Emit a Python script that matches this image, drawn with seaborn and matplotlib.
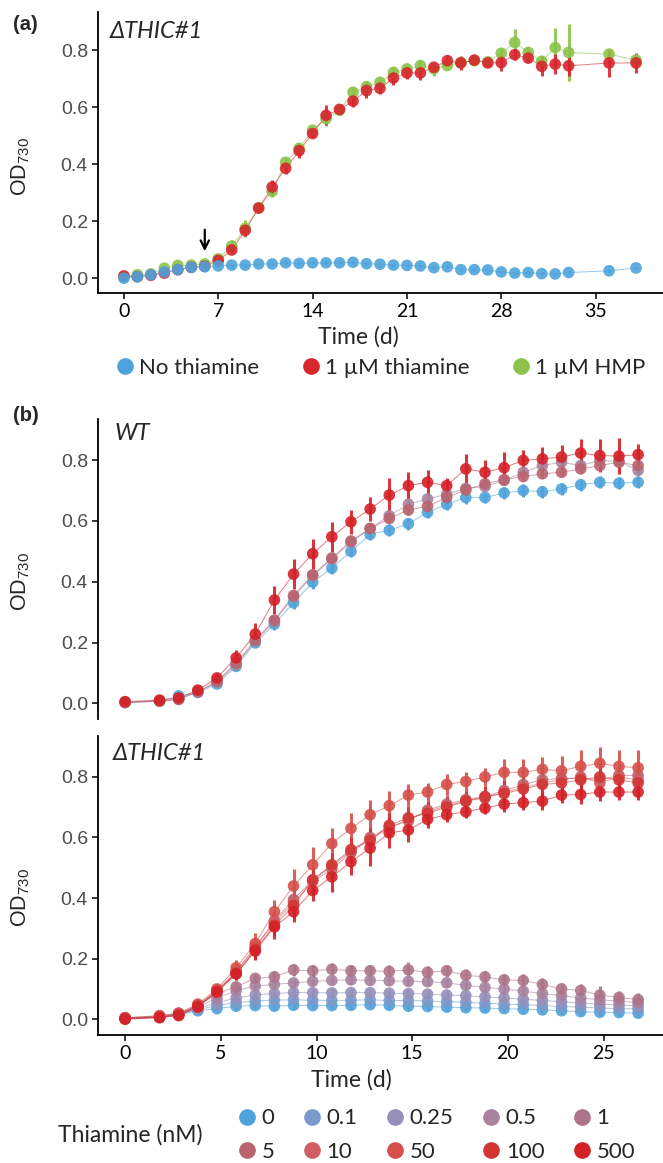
import numpy as np
import pandas as pd
import matplotlib
matplotlib.use("Agg")
import matplotlib.pyplot as plt
from matplotlib.lines import Line2D
import seaborn as sns

# ---- panel (a): dTHIC#1, no thiamine / thiamine / HMP ----
days_a = [0, 1, 2, 3, 4, 5, 6, 7, 8, 9, 10, 11, 12, 13, 14, 15, 16, 17, 18, 19,
          20, 21, 22, 23, 24, 25, 26, 27, 28, 29, 30, 31, 32, 33, 36, 38]
none_a = [0.000, 0.005, 0.012, 0.022, 0.030, 0.038, 0.040, 0.043, 0.046, 0.046, 0.050, 0.050,
          0.054, 0.052, 0.054, 0.054, 0.054, 0.056, 0.051, 0.049, 0.046, 0.045, 0.043, 0.037,
          0.040, 0.030, 0.030, 0.029, 0.022, 0.018, 0.020, 0.016, 0.015, 0.020, 0.026, 0.036]
thi_a = [0.008, 0.005, 0.010, 0.018, 0.030, 0.038, 0.042, 0.062, 0.099, 0.168, 0.246, 0.320,
         0.386, 0.448, 0.508, 0.572, 0.593, 0.622, 0.659, 0.667, 0.703, 0.721, 0.721, 0.741,
         0.764, 0.756, 0.766, 0.756, 0.757, 0.785, 0.773, 0.744, 0.752, 0.746, 0.756, 0.756]
hmp_a = [0.005, 0.012, 0.015, 0.035, 0.045, 0.046, 0.050, 0.068, 0.113, 0.175, 0.248, 0.305,
         0.407, 0.456, 0.520, 0.560, 0.590, 0.653, 0.673, 0.688, 0.723, 0.735, 0.747, 0.735,
         0.747, 0.758, 0.764, 0.760, 0.790, 0.828, 0.793, 0.762, 0.810, 0.793, 0.787, 0.766]
none_sd = [0.004, 0.004, 0.004, 0.005, 0.005, 0.005, 0.005, 0.005, 0.005, 0.005, 0.005, 0.005,
           0.005, 0.005, 0.005, 0.005, 0.005, 0.005, 0.005, 0.005, 0.005, 0.005, 0.005, 0.005,
           0.005, 0.005, 0.005, 0.005, 0.005, 0.005, 0.005, 0.005, 0.005, 0.005, 0.005, 0.005]
thi_sd = [0.005, 0.005, 0.005, 0.005, 0.005, 0.005, 0.005, 0.008, 0.010, 0.020, 0.015, 0.025,
          0.020, 0.025, 0.015, 0.035, 0.020, 0.020, 0.025, 0.020, 0.025, 0.020, 0.025, 0.015,
          0.020, 0.025, 0.015, 0.010, 0.030, 0.020, 0.015, 0.035, 0.035, 0.035, 0.050, 0.035]
hmp_sd = [0.005, 0.005, 0.005, 0.005, 0.005, 0.005, 0.005, 0.010, 0.020, 0.030, 0.015, 0.020,
          0.015, 0.020, 0.010, 0.025, 0.015, 0.015, 0.015, 0.020, 0.020, 0.020, 0.020, 0.025,
          0.010, 0.015, 0.010, 0.010, 0.015, 0.047, 0.020, 0.020, 0.070, 0.100, 0.010, 0.010]
groups_a = ["No thiamine", "1 \u00b5M thiamine", "1 \u00b5M HMP"]
colors_a = ["#4EA3DC", "#D7262D", "#8BC34A"]

# ---- panel (b): thiamine concentrations ----
days_b = [0, 1.8, 2.8, 3.8, 4.8, 5.8, 6.8, 7.8, 8.8, 9.8, 10.8, 11.8, 12.8, 13.8,
          14.8, 15.8, 16.8, 17.8, 18.8, 19.8, 20.8, 21.8, 22.8, 23.8, 24.8, 25.8, 26.8]
conc = ["0", "0.1", "0.25", "0.5", "1", "5", "10", "50", "100", "500"]
conc_colors = ["#4FA3DB", "#7B9ACB", "#968FBB", "#A8829E", "#AE7489",
               "#B9646E", "#D05F63", "#D5504A", "#D33535", "#D42027"]

# WT
wt_conc = ["0", "0.5", "5", "500"]
wt_od = {
    "0": [0.003, 0.009, 0.025, 0.036, 0.064, 0.122, 0.199, 0.261, 0.331, 0.399, 0.445, 0.500, 0.556, 0.569,
          0.591, 0.628, 0.655, 0.677, 0.677, 0.692, 0.700, 0.696, 0.705, 0.719, 0.727, 0.724, 0.727],
    "0.5": [0.004, 0.008, 0.015, 0.038, 0.070, 0.128, 0.205, 0.270, 0.350, 0.420, 0.475, 0.530, 0.575, 0.617,
            0.655, 0.672, 0.688, 0.707, 0.713, 0.733, 0.760, 0.782, 0.793, 0.782, 0.799, 0.796, 0.766],
    "5": [0.003, 0.007, 0.013, 0.039, 0.073, 0.133, 0.208, 0.274, 0.355, 0.423, 0.478, 0.534, 0.575, 0.608,
          0.636, 0.648, 0.677, 0.702, 0.722, 0.736, 0.746, 0.755, 0.760, 0.771, 0.782, 0.793, 0.782],
    "500": [0.006, 0.011, 0.018, 0.044, 0.084, 0.150, 0.228, 0.340, 0.425, 0.492, 0.548, 0.597, 0.639, 0.685,
            0.716, 0.727, 0.716, 0.771, 0.760, 0.775, 0.799, 0.804, 0.810, 0.823, 0.815, 0.813, 0.818],
}
wt_sd = {
    "0": [0.003, 0.004, 0.005, 0.006, 0.008, 0.012, 0.015, 0.020, 0.020, 0.022, 0.020, 0.020, 0.020, 0.020,
          0.020, 0.020, 0.020, 0.020, 0.018, 0.020, 0.020, 0.020, 0.020, 0.020, 0.020, 0.020, 0.020],
    "0.5": [0.003, 0.004, 0.005, 0.006, 0.008, 0.010, 0.012, 0.015, 0.015, 0.015, 0.015, 0.015, 0.015, 0.015,
            0.015, 0.015, 0.015, 0.015, 0.015, 0.015, 0.015, 0.015, 0.015, 0.015, 0.015, 0.015, 0.015],
    "5": [0.003, 0.004, 0.005, 0.006, 0.008, 0.010, 0.012, 0.015, 0.015, 0.015, 0.015, 0.015, 0.015, 0.015,
          0.015, 0.015, 0.015, 0.015, 0.015, 0.015, 0.015, 0.015, 0.015, 0.015, 0.015, 0.015, 0.015],
    "500": [0.005, 0.005, 0.008, 0.010, 0.015, 0.025, 0.035, 0.045, 0.050, 0.050, 0.050, 0.040, 0.040, 0.055,
            0.045, 0.040, 0.025, 0.050, 0.040, 0.050, 0.035, 0.040, 0.040, 0.045, 0.055, 0.060, 0.035],
}

# dTHIC#1
th_od = {
    "0": [0.003, 0.006, 0.015, 0.028, 0.035, 0.043, 0.045, 0.043, 0.046, 0.045, 0.045, 0.046, 0.048, 0.046,
          0.043, 0.042, 0.040, 0.038, 0.037, 0.035, 0.033, 0.031, 0.028, 0.025, 0.023, 0.022, 0.020],
    "0.1": [0.003, 0.007, 0.016, 0.032, 0.045, 0.055, 0.060, 0.063, 0.064, 0.063, 0.062, 0.063, 0.064, 0.062,
            0.062, 0.060, 0.058, 0.056, 0.053, 0.050, 0.048, 0.045, 0.042, 0.040, 0.037, 0.035, 0.034],
    "0.25": [0.004, 0.008, 0.018, 0.036, 0.055, 0.070, 0.080, 0.085, 0.088, 0.088, 0.087, 0.088, 0.088, 0.086,
             0.085, 0.083, 0.080, 0.078, 0.074, 0.070, 0.066, 0.062, 0.058, 0.054, 0.050, 0.047, 0.045],
    "0.5": [0.004, 0.008, 0.018, 0.040, 0.070, 0.094, 0.110, 0.115, 0.120, 0.125, 0.128, 0.130, 0.128, 0.127,
            0.125, 0.124, 0.120, 0.112, 0.105, 0.100, 0.093, 0.085, 0.078, 0.070, 0.064, 0.060, 0.055],
    "1": [0.005, 0.010, 0.020, 0.045, 0.085, 0.107, 0.135, 0.140, 0.163, 0.160, 0.165, 0.160, 0.160, 0.158,
          0.163, 0.155, 0.160, 0.145, 0.140, 0.130, 0.128, 0.115, 0.100, 0.095, 0.080, 0.072, 0.065],
    "5": [0.004, 0.008, 0.015, 0.045, 0.095, 0.155, 0.235, 0.325, 0.395, 0.460, 0.505, 0.555, 0.600, 0.635,
          0.655, 0.690, 0.710, 0.725, 0.735, 0.755, 0.775, 0.790, 0.795, 0.795, 0.790, 0.805, 0.805],
    "10": [0.003, 0.008, 0.016, 0.046, 0.094, 0.158, 0.240, 0.320, 0.385, 0.455, 0.495, 0.550, 0.595, 0.630,
           0.660, 0.685, 0.705, 0.720, 0.730, 0.750, 0.765, 0.780, 0.790, 0.800, 0.780, 0.800, 0.790],
    "50": [0.005, 0.012, 0.020, 0.050, 0.100, 0.170, 0.250, 0.355, 0.440, 0.510, 0.580, 0.630, 0.675, 0.705,
           0.740, 0.750, 0.775, 0.785, 0.800, 0.815, 0.815, 0.825, 0.820, 0.835, 0.845, 0.835, 0.830],
    "100": [0.002, 0.007, 0.014, 0.043, 0.092, 0.150, 0.230, 0.310, 0.375, 0.460, 0.510, 0.560, 0.590, 0.640,
            0.665, 0.680, 0.700, 0.720, 0.735, 0.745, 0.760, 0.775, 0.780, 0.790, 0.800, 0.790, 0.780],
    "500": [0.000, 0.005, 0.012, 0.040, 0.090, 0.150, 0.225, 0.305, 0.355, 0.425, 0.470, 0.520, 0.565, 0.615,
            0.625, 0.660, 0.675, 0.685, 0.697, 0.710, 0.715, 0.720, 0.740, 0.742, 0.750, 0.750, 0.750],
}
low_sd = [0.004, 0.005, 0.006, 0.008, 0.010, 0.012, 0.012, 0.012, 0.012, 0.012, 0.012, 0.012, 0.012, 0.012,
          0.012, 0.012, 0.012, 0.012, 0.012, 0.012, 0.012, 0.012, 0.012, 0.012, 0.012, 0.012, 0.012]
th_sd = {
    "0": low_sd, "0.1": low_sd, "0.25": low_sd, "0.5": low_sd,
    "1": [0.004, 0.005, 0.006, 0.008, 0.010, 0.015, 0.015, 0.020, 0.020, 0.020, 0.020, 0.020, 0.020, 0.020,
          0.025, 0.020, 0.020, 0.020, 0.020, 0.020, 0.020, 0.020, 0.020, 0.020, 0.030, 0.020, 0.020],
    "5": [0.005, 0.005, 0.008, 0.010, 0.015, 0.020, 0.025, 0.030, 0.035, 0.035, 0.030, 0.030, 0.030, 0.030,
          0.030, 0.030, 0.030, 0.030, 0.030, 0.030, 0.030, 0.030, 0.035, 0.035, 0.035, 0.035, 0.035],
    "10": [0.005, 0.005, 0.008, 0.010, 0.015, 0.020, 0.025, 0.030, 0.035, 0.035, 0.030, 0.030, 0.030, 0.030,
           0.030, 0.030, 0.030, 0.030, 0.030, 0.030, 0.030, 0.030, 0.035, 0.035, 0.035, 0.035, 0.035],
    "50": [0.005, 0.006, 0.008, 0.012, 0.018, 0.025, 0.035, 0.040, 0.055, 0.060, 0.050, 0.050, 0.050, 0.050,
           0.035, 0.030, 0.035, 0.030, 0.030, 0.045, 0.045, 0.040, 0.050, 0.055, 0.055, 0.055, 0.060],
    "100": [0.005, 0.005, 0.008, 0.010, 0.015, 0.020, 0.030, 0.035, 0.040, 0.040, 0.040, 0.040, 0.040, 0.040,
            0.040, 0.040, 0.035, 0.035, 0.035, 0.040, 0.040, 0.045, 0.045, 0.045, 0.050, 0.045, 0.045],
    "500": [0.005, 0.005, 0.008, 0.010, 0.015, 0.020, 0.030, 0.040, 0.035, 0.035, 0.050, 0.045, 0.060, 0.050,
            0.040, 0.030, 0.025, 0.020, 0.020, 0.025, 0.025, 0.030, 0.025, 0.030, 0.030, 0.025, 0.025],
}

# ---- build long-form tables ----
df_a = pd.concat([
    pd.DataFrame({"time": days_a, "od": v, "sd": s, "group": g})
    for g, v, s in zip(groups_a, [none_a, thi_a, hmp_a], [none_sd, thi_sd, hmp_sd])
])
df_wt = pd.concat([pd.DataFrame({"time": days_b, "od": wt_od[c], "sd": wt_sd[c], "group": c})
                   for c in wt_conc])
df_th = pd.concat([pd.DataFrame({"time": days_b, "od": th_od[c], "sd": th_sd[c], "group": c})
                   for c in conc])

pal_a = dict(zip(groups_a, colors_a))
pal_b = dict(zip(conc, conc_colors))

sns.set_theme(style="ticks")
plt.rcParams["font.family"] = ["Lato", "DejaVu Sans"]
plt.rcParams["mathtext.fontset"] = "custom"
plt.rcParams["mathtext.rm"] = "Liberation Sans"
plt.rcParams["mathtext.it"] = "Liberation Sans:italic"

W, H = 663, 1163
fig = plt.figure(figsize=(W / 100, H / 100), dpi=100)


def rect(left, top, right, bottom):
    return [left / W, 1 - bottom / H, (right - left) / W, (bottom - top) / H]


ax_a = fig.add_axes(rect(98.3, 12, 663, 293))
ax_wt = fig.add_axes(rect(98.3, 419, 663, 719.3))
ax_th = fig.add_axes(rect(98.3, 736, 663, 1035))


def draw(ax, df, pal, order):
    for g in order:
        d = df[df["group"] == g]
        ax.vlines(d["time"], d["od"] - d["sd"], d["od"] + d["sd"], colors=pal[g],
                  linewidth=2.2, alpha=0.9, zorder=2)
    sub = df.set_index("group").loc[order].reset_index()
    sns.lineplot(data=sub, x="time", y="od", hue="group", hue_order=order, palette=pal,
                 estimator=None, sort=False, linewidth=0.7, alpha=0.6, legend=False, ax=ax, zorder=3)
    for g in order:
        d = df[df["group"] == g]
        sns.scatterplot(data=d, x="time", y="od", color=pal[g], s=70, edgecolor="none",
                        alpha=0.9, legend=False, ax=ax, zorder=4)


draw(ax_a, df_a, pal_a, ["1 \u00b5M HMP", "1 \u00b5M thiamine", "No thiamine"])
draw(ax_wt, df_wt, pal_b, wt_conc)
draw(ax_th, df_th, pal_b, conc)

ytick_font = dict(family="Liberation Sans", size=14, color="#4D4D4D")
for ax in (ax_a, ax_wt, ax_th):
    sns.despine(ax=ax)
    ax.set_ylim(-0.052, 0.935)
    ax.set_yticks([0, 0.2, 0.4, 0.6, 0.8])
    ax.set_yticklabels(["0.0", "0.2", "0.4", "0.6", "0.8"], **ytick_font)
    ax.set_xlabel("")
    ax.set_ylabel("")
    ax.spines["left"].set_linewidth(1.3)
    ax.spines["bottom"].set_linewidth(1.3)
    ax.spines["left"].set_color("black")
    ax.spines["bottom"].set_color("black")
    ax.tick_params(length=4.5, width=1.1, color="black", pad=3)

ax_a.set_xlim(-1.9, 40.0)
ax_a.set_xticks([0, 7, 14, 21, 28, 35])
for ax in (ax_wt, ax_th):
    ax.set_xlim(-1.4, 28.1)
    ax.set_xticks([0, 5, 10, 15, 20, 25])
ax_wt.spines["bottom"].set_visible(False)
ax_wt.tick_params(axis="x", bottom=False, labelbottom=False)
for ax in (ax_a, ax_th):
    for lab in ax.get_xticklabels():
        lab.set_fontsize(14)
        lab.set_color("black")

# arrow at thiamine addition
ax_a.annotate("", xy=(6, 0.085), xytext=(6, 0.18),
              arrowprops=dict(arrowstyle="->", color="black", lw=1.6, mutation_scale=15))

# texts
fig.text(13 / W, 1 - 25 / H, "(a)", fontsize=14.5, fontweight="bold", family="Liberation Sans",
         ha="left", va="center")
fig.text(13 / W, 1 - 415 / H, "(b)", fontsize=14.5, fontweight="bold", family="Liberation Sans",
         ha="left", va="center")
fig.text(110 / W, 1 - 32 / H, "\u0394THIC#1", fontsize=17, style="italic", ha="left", va="center")
fig.text(115 / W, 1 - 433 / H, "WT", fontsize=17, style="italic", ha="left", va="center")
fig.text(113 / W, 1 - 753 / H, "\u0394THIC#1", fontsize=17, style="italic", ha="left", va="center")
for yc in (166, 581, 897):
    fig.text(21 / W, 1 - yc / H, "OD$_{730}$", fontsize=15.5, family="Liberation Sans",
             rotation=90, ha="center", va="center")
fig.text(358 / W, 1 - 337 / H, "Time (d)", fontsize=16.5, ha="center", va="center")
fig.text(351 / W, 1 - 1080 / H, "Time (d)", fontsize=16.5, ha="center", va="center")

# legend (a)
handles_a = [Line2D([], [], marker="o", linestyle="", markersize=11, color=c) for c in colors_a]
fig.legend(handles_a, groups_a, loc="center left", bbox_to_anchor=(116 / W, 1 - 368 / H),
           ncol=3, frameon=False, handlelength=0.8, handletextpad=0.25, columnspacing=1.9,
           borderpad=0, borderaxespad=0, prop=dict(size=16))

# legend (b)
order = [0, 5, 1, 6, 2, 7, 3, 8, 4, 9]
handles_b = [Line2D([], [], marker="o", linestyle="", markersize=11, color=conc_colors[i]) for i in order]
fig.legend(handles_b, [conc[i] for i in order], loc="center left",
           bbox_to_anchor=(238 / W, 1 - 1135 / H), ncol=5, frameon=False, handlelength=0.8,
           handletextpad=0.25, columnspacing=1.3, labelspacing=0.6, borderpad=0,
           borderaxespad=0, prop=dict(size=16))
fig.text(58 / W, 1 - 1135 / H, "Thiamine (nM)", fontsize=16.5, ha="left", va="center")

fig.savefig("out.png", dpi=100)
